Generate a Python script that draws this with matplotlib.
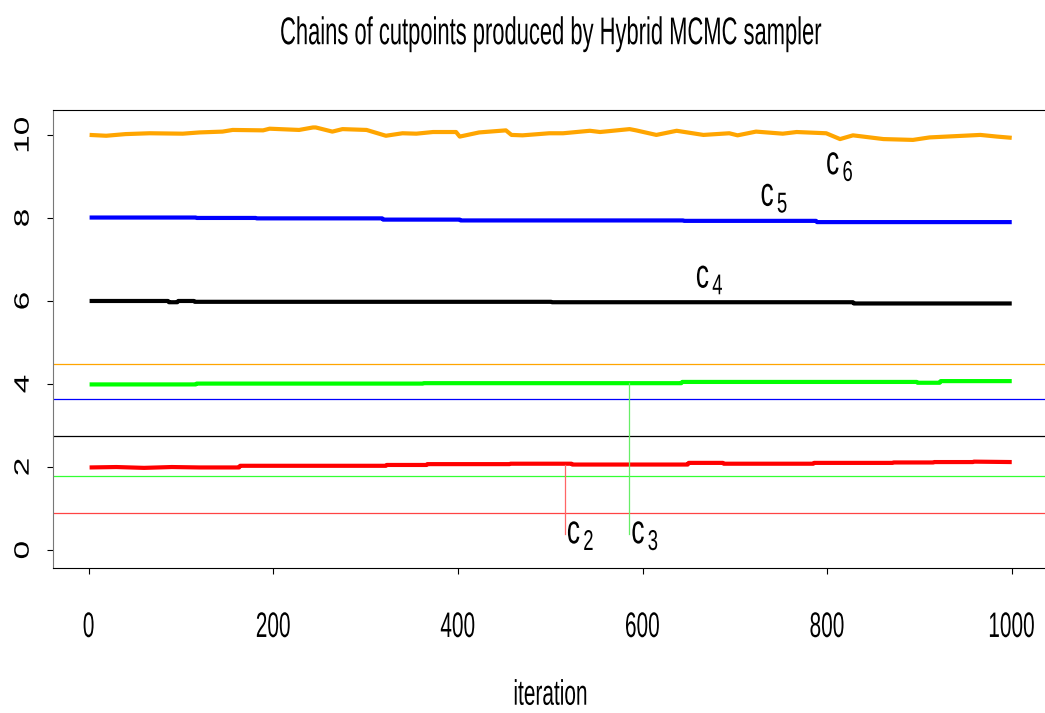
import matplotlib
matplotlib.use("Agg")
import matplotlib.pyplot as plt
from matplotlib import patheffects
from matplotlib.transforms import Affine2D

plt.rcParams['font.family'] = ['Liberation Sans', 'DejaVu Sans']
plt.rcParams['mathtext.fontset'] = 'custom'
plt.rcParams['mathtext.rm'] = 'Liberation Sans'

# chains (iteration, value)
c6_iter = [1, 19, 40, 66, 102, 120, 145, 156, 189, 196, 228, 243, 246, 264, 275,
           301, 322, 340, 355, 373, 398, 402, 423, 452, 458, 470, 499, 514, 543,
           554, 586, 593, 615, 637, 666, 694, 703, 723, 752, 767, 799, 814, 828,
           861, 893, 911, 966, 984, 1000]
c6_vals = [10.00, 9.98, 10.02, 10.04, 10.03, 10.06, 10.08, 10.12, 10.11, 10.15,
           10.12, 10.18, 10.18, 10.08, 10.14, 10.12, 9.98, 10.04, 10.03, 10.07,
           10.07, 9.96, 10.06, 10.11, 10.00, 9.99, 10.04, 10.04, 10.10, 10.07,
           10.14, 10.11, 10.00, 10.10, 10.00, 10.04, 9.99, 10.08, 10.03, 10.07,
           10.04, 9.90, 9.99, 9.90, 9.88, 9.94, 10.00, 9.96, 9.93]

c5_iter = [1, 116, 117, 181, 182, 318, 319, 402, 403, 644, 645, 788, 789, 1000]
c5_vals = [8.01, 8.01, 8.00, 8.00, 7.99, 7.99, 7.96, 7.96, 7.94, 7.94, 7.93, 7.93, 7.90, 7.90]

c4_iter = [1, 86, 87, 96, 97, 114, 115, 501, 502, 828, 829, 1000]
c4_vals = [6.00, 6.00, 5.97, 5.97, 6.00, 6.00, 5.98, 5.98, 5.97, 5.97, 5.94, 5.94]

c3_iter = [1, 116, 117, 362, 363, 642, 643, 897, 898, 922, 923, 1000]
c3_vals = [3.99, 3.99, 4.01, 4.01, 4.02, 4.02, 4.05, 4.05, 4.03, 4.03, 4.07, 4.07]

c2_iter = [1, 30, 60, 90, 120, 163, 164, 322, 323, 366, 367, 456, 457, 523, 524,
           649, 650, 687, 688, 785, 786, 871, 872, 915, 916, 958, 959, 1000]
c2_vals = [1.99, 2.00, 1.98, 2.00, 1.99, 1.99, 2.03, 2.03, 2.05, 2.05, 2.07, 2.07,
           2.08, 2.08, 2.06, 2.06, 2.10, 2.10, 2.08, 2.08, 2.10, 2.10, 2.11, 2.11,
           2.12, 2.12, 2.13, 2.12]

chains = [(c6_iter, c6_vals, '#FFA500'), (c5_iter, c5_vals, '#0000FF'),
          (c4_iter, c4_vals, 'black'), (c3_iter, c3_vals, '#00FF00'),
          (c2_iter, c2_vals, '#FF0000')]

# horizontal reference lines
hlines = [4.49, 3.65, 2.75, 1.79, 0.89]
hcolors = ['#FFA500', '#0000FF', 'black', '#33FF33', '#FF4444']

# vertical markers (iteration, bottom, top)
vmarks = [(516, 0.38, 2.06, '#FF6666'), (585, 0.38, 4.02, '#66EE66')]

# labels (iteration, centre value, text)
labels = [(533, 0.36, r'$\mathrm{c}_{\,2}$'), (603, 0.36, r'$\mathrm{c}_{\,3}$'),
          (673, 6.52, r'$\mathrm{c}_{\,4}$'), (743, 8.49, r'$\mathrm{c}_{\,5}$'),
          (814, 9.25, r'$\mathrm{c}_{\,6}$')]


# the original was resized unevenly: glyphs look taller than they are wide
class Stretch(patheffects.AbstractPathEffect):
    def __init__(self, sx=1.0, sy=1.0):
        super().__init__()
        self.sx, self.sy = sx, sy

    def draw_path(self, renderer, gc, tpath, affine, rgbFace=None):
        ext = tpath.get_extents(affine)
        cx, cy = ext.x0 + ext.width / 2, ext.y0 + ext.height / 2
        t = affine + Affine2D().translate(-cx, -cy).scale(self.sx, self.sy).translate(cx, cy)
        renderer.draw_path(gc, tpath, t, rgbFace)


fig = plt.figure(figsize=(10.45, 7.13), dpi=100)
ax = fig.add_axes([0.0504, 0.2029, 0.9531, 0.6428])

for it, vals, col in chains:
    ax.plot(it, vals, color=col, lw=3, solid_capstyle='butt')

for y, col in zip(hlines, hcolors):
    ax.axhline(y, color=col, lw=0.9)

for x, y0, y1, col in vmarks:
    ax.plot([x, x], [y0, y1], color=col, lw=0.9)

for x, y, s in labels:
    ax.text(x, y, s, fontsize=19, ha='center', va='center',
            path_effects=[Stretch(1.0, 1.55)])

ax.set_xlim(-39, 1040)
ax.set_ylim(-0.44, 10.60)
ax.set_xticks([0, 200, 400, 600, 800, 1000])
ax.set_yticks([0, 2, 4, 6, 8, 10])
ax.tick_params(axis='x', labelsize=15, length=4, pad=31)
ax.tick_params(axis='y', labelsize=15, length=4, pad=10.4)
for lab in ax.get_xticklabels():
    lab.set_path_effects([Stretch(1.0, 1.7)])
for lab in ax.get_yticklabels():
    lab.set_rotation(90)
    lab.set_va('center')
    lab.set_ha('right')
    lab.set_path_effects([Stretch(1.0, 1.6)])

ax.spines['left'].set_color('#777777')
ax.spines['right'].set_visible(False)

t = ax.set_title('Chains of cutpoints produced by Hybrid MCMC sampler', fontsize=15.8, pad=50.5)
t.set_path_effects([Stretch(1.0, 1.76)])
xl = ax.set_xlabel('iteration', fontsize=15)
xl.set_path_effects([Stretch(1.0, 1.7)])
ax.xaxis.set_label_coords(0.5, -0.2535)

fig.savefig('out.png', dpi=100)
